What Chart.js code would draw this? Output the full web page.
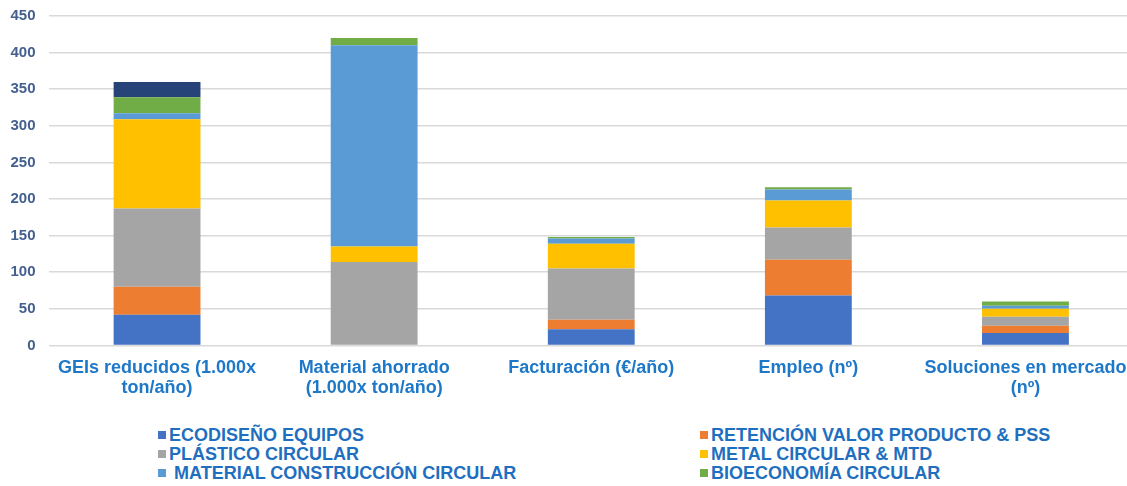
<!DOCTYPE html>
<html>
<head>
<meta charset="utf-8">
<script src="https://cdn.jsdelivr.net/npm/chart.js@4/dist/chart.umd.min.js"></script>
<style>
    html, body { margin: 0; padding: 0; background: #fff; overflow: hidden; }
    #wrap { position: absolute; left: 0; top: -6px; width: 1134px; height: 409px; }
    #legend {
        position: absolute; left: 0; top: 426px; width: 1127px;
        font-family: "Liberation Sans Narrow", "Liberation Sans", Arial, sans-serif;
        font-weight: bold; font-size: 18px; color: #1F6FC0;
    }
    .item { position: absolute; white-space: pre; line-height: 19px; }
    .item span.box { display: inline-block; width: 8px; height: 8px; margin-right: 3px; vertical-align: 2px; }
</style>
</head>
<body>
<div id="wrap"><canvas id="chart"></canvas></div>
<div id="legend"></div>
<script>
var categories = [
    ['GEIs reducidos (1.000x', 'ton/año)'],
    ['Material ahorrado', '(1.000x ton/año)'],
    'Facturación (€/año)',
    'Empleo (nº)',
    ['Soluciones en mercado', '(nº)']
];
var yTicks = [0, 50, 100, 150, 200, 250, 300, 350, 400, 450];

var ecodiseno = [42, 1, 22, 68, 17];
var retencion = [38, 0, 13, 49, 10];
var plastico = [107, 113, 70, 44, 12];
var metal = [122, 21, 34, 37, 11];
var construccion = [8, 275, 7, 15, 4];
var bioeconomia = [22, 10, 2, 3, 6];
var otros = [21, 0, 0, 0, 0];

var seriesNames = ['ECODISEÑO EQUIPOS', 'RETENCIÓN VALOR PRODUCTO & PSS', 'PLÁSTICO CIRCULAR',
    'METAL CIRCULAR & MTD', ' MATERIAL CONSTRUCCIÓN CIRCULAR', 'BIOECONOMÍA CIRCULAR', ''];
var seriesData = [ecodiseno, retencion, plastico, metal, construccion, bioeconomia, otros];
var seriesColors = ['#4472C4', '#ED7D31', '#A5A5A5', '#FFC000', '#5B9BD5', '#70AD47', '#264478'];

var datasets = seriesData.map(function(d, i) {
    return {
        label: seriesNames[i],
        data: d,
        backgroundColor: seriesColors[i],
        borderWidth: 0,
        barPercentage: 0.4,
        categoryPercentage: 1
    };
});

new Chart(document.getElementById('chart'), {
    type: 'bar',
    data: { labels: categories, datasets: datasets },
    options: {
        responsive: true,
        maintainAspectRatio: false,
        animation: false,
        layout: { padding: { top: 2, left: 0, right: 0, bottom: 0 } },
        plugins: { legend: { display: false }, tooltip: { enabled: false } },
        scales: {
            x: {
                stacked: true,
                grid: { display: false },
                border: { display: false },
                ticks: {
                    color: '#1E78C8',
                    font: { family: '"Liberation Sans", Arial, sans-serif', size: 18, weight: 'bold', lineHeight: 1.1 },
                    padding: 5,
                    maxRotation: 0,
                    autoSkip: false
                }
            },
            y: {
                stacked: true,
                min: 0,
                max: 450,
                afterBuildTicks: function(axis) {
                    axis.ticks = yTicks.map(function(v) { return { value: v }; });
                },
                afterFit: function(axis) { axis.width = 48.5; },
                grid: { color: '#D9D9D9', lineWidth: 1.5, drawTicks: false },
                border: { display: false },
                ticks: {
                    color: '#44608F',
                    font: { family: '"Liberation Sans", Arial, sans-serif', size: 15, weight: 'bold' },
                    padding: 13
                }
            }
        }
    }
});

// legend in two columns, three rows
var legendPos = [[158, 0], [700, 0], [158, 19], [700, 19], [158, 38], [700, 38]];
var legend = document.getElementById('legend');
for (var i = 0; i < 6; i++) {
    var el = document.createElement('div');
    el.className = 'item';
    el.style.left = legendPos[i][0] + 'px';
    el.style.top = legendPos[i][1] + 'px';
    el.innerHTML = '<span class="box" style="background:' + seriesColors[i] + '"></span>';
    el.appendChild(document.createTextNode(seriesNames[i]));
    legend.appendChild(el);
}
</script>
</body>
</html>
